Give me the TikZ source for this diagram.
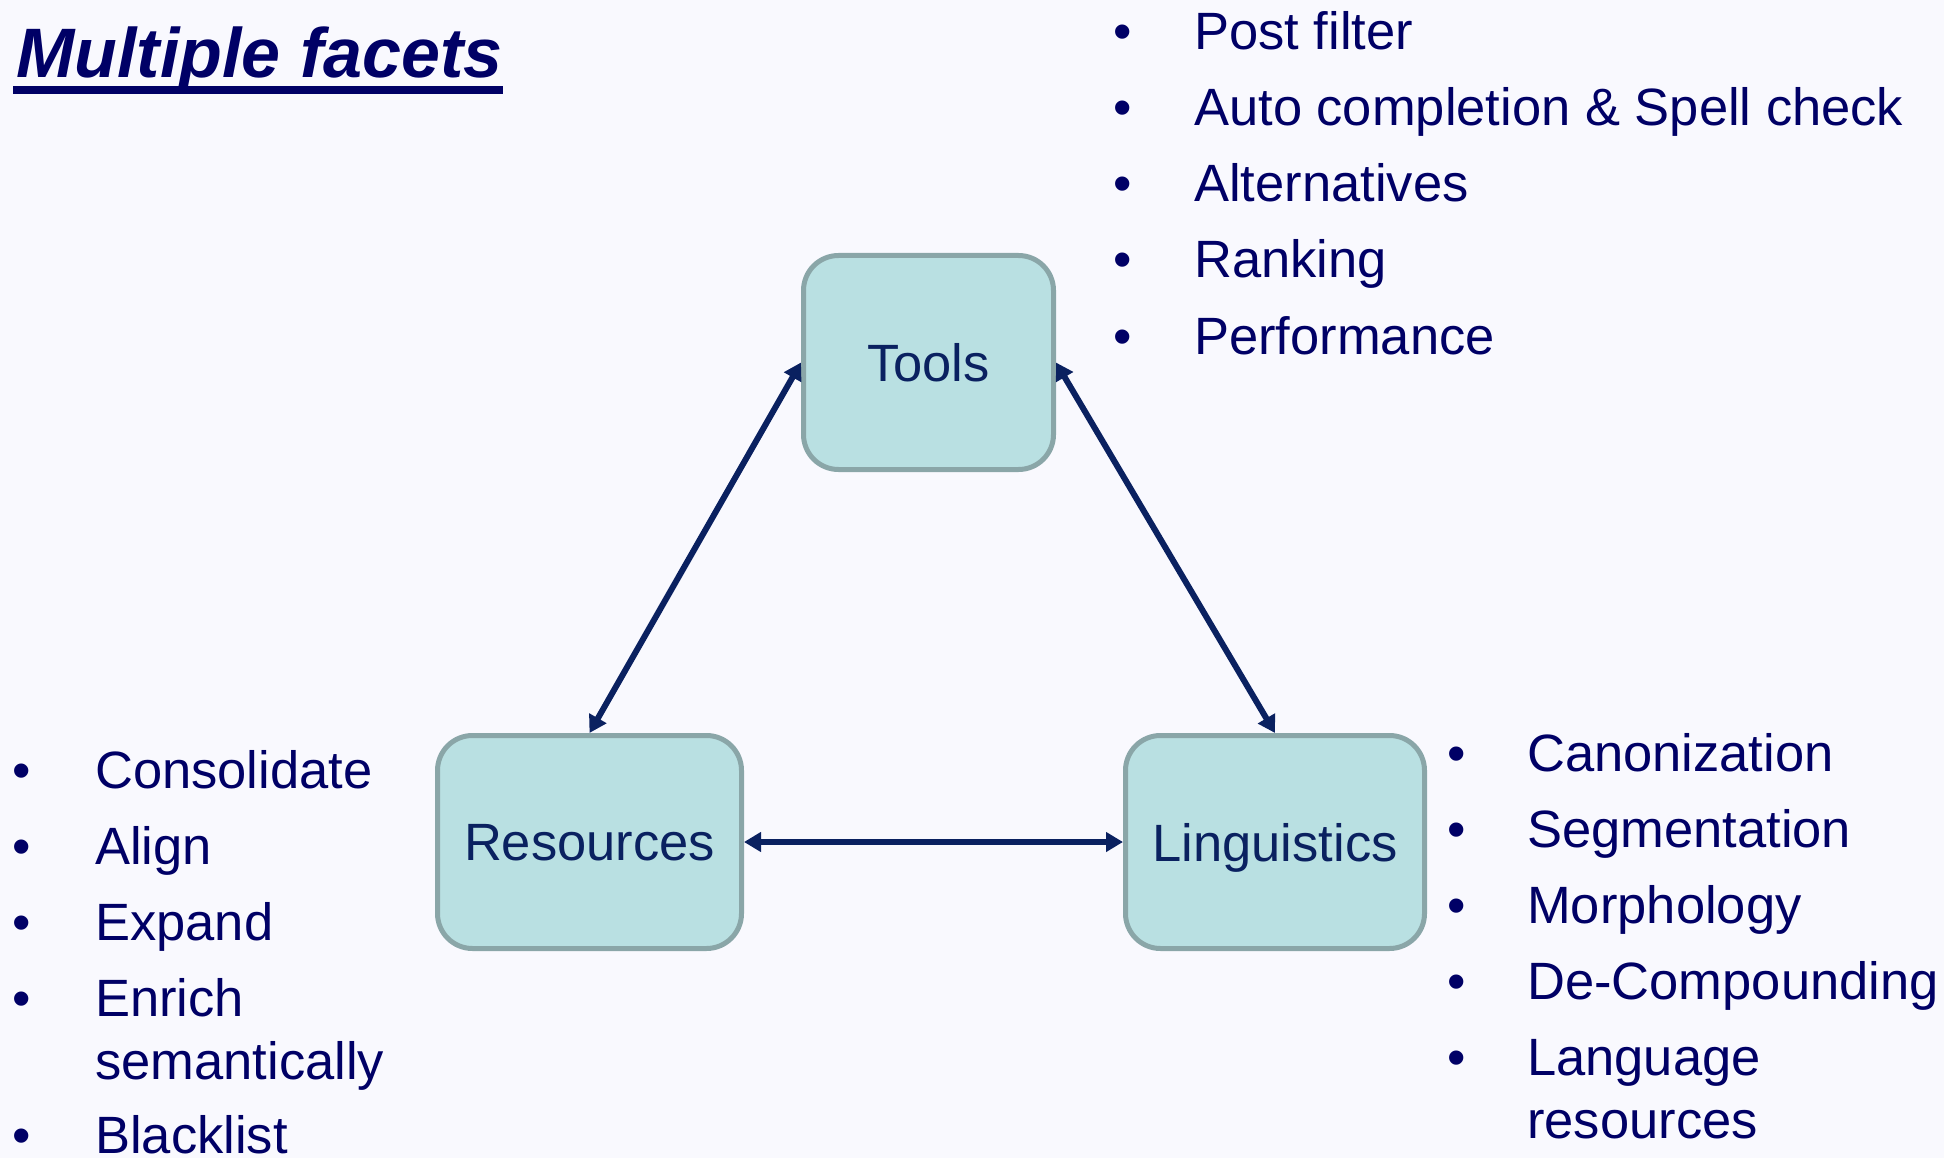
\documentclass[tikz,border=0pt]{standalone}
\usepackage{fontspec}
\setmainfont{Liberation Sans}
\usetikzlibrary{arrows.meta,positioning}

\definecolor{pagebg}{RGB}{249,249,254}
\definecolor{boxfill}{RGB}{185,224,226}
\definecolor{boxline}{RGB}{138,166,168}
\definecolor{navy}{RGB}{0,0,102}
\definecolor{inkblue}{RGB}{10,33,96}

\begin{document}
\begin{tikzpicture}[x=1pt,y=-1pt,>={Triangle[length=17pt,width=19pt]},
    font=\fontsize{52.5}{62}\selectfont]
  \tikzstyle{facet}=[draw=boxline,fill=boxfill,line width=5pt,rounded corners=35pt,
    text=inkblue,text depth=0pt,inner sep=0pt]
  \tikzstyle{item}=[anchor=base west,inner sep=0pt,text=navy]
  \tikzstyle{dot}=[anchor=base,inner sep=0pt,text=navy]
  \tikzstyle{twoway}=[<->,draw=inkblue,line width=6pt]

  \fill[pagebg] (0,0) rectangle (1944,1158);
  \useasboundingbox (0,0) rectangle (1944,1158);

  % title
  \node[anchor=base west,inner sep=0pt,text=navy,
    font=\fontsize{70}{84}\selectfont\bfseries\itshape] (title) at (16,78) {Multiple facets};
  \draw[navy,line width=8pt] ([xshift=-3pt,yshift=-12pt]title.base west)
    -- ([yshift=-12pt]title.base east);

  % the three facets
  \node[facet,minimum width=250pt,minimum height=214pt] (tools) at (928.5,362.5) {Tools};
  \node[facet,minimum width=304pt,minimum height=213pt] (res)   at (589.5,842)   {Resources};
  \node[facet,minimum width=299pt,minimum height=213pt] (ling)  [right=379pt of res] {Linguistics};

  \draw[twoway] (tools.west) -- (res.north);
  \draw[twoway] (tools.east) -- (ling.north);
  \draw[twoway] (res.east) -- (ling.west);

  % tools list
  \foreach \txt [count=\i] in {Post filter, Auto completion \& Spell check,
      Alternatives, Ranking, Performance}{
    \node[dot]  (tdot\i) at (1123,50+76*\i-76) {\textbullet};
    \node[item] (titem\i) at (1194,50+76*\i-76) {\txt};
  }

  % resources list
  \foreach \txt/\y [count=\i] in {Consolidate/788, Align/864, Expand/940,
      Enrich/1016, Blacklist/1153}{
    \node[dot]  (rdot\i) at (22,\y) {\textbullet};
    \node[item] (ritem\i) at (95,\y) {\txt};
  }
  \node[item] (ritem4b) at (95,1079) {semantically};

  % linguistics list
  \foreach \txt/\y [count=\i] in {Canonization/771, Segmentation/847, Morphology/923,
      De-Compounding/999, Language/1075}{
    \node[dot]  (ldot\i) at (1457,\y) {\textbullet};
    \node[item] (litem\i) at (1527,\y) {\txt};
  }
  \node[item] (litem5b) at (1527,1138) {resources};
\end{tikzpicture}
\end{document}
